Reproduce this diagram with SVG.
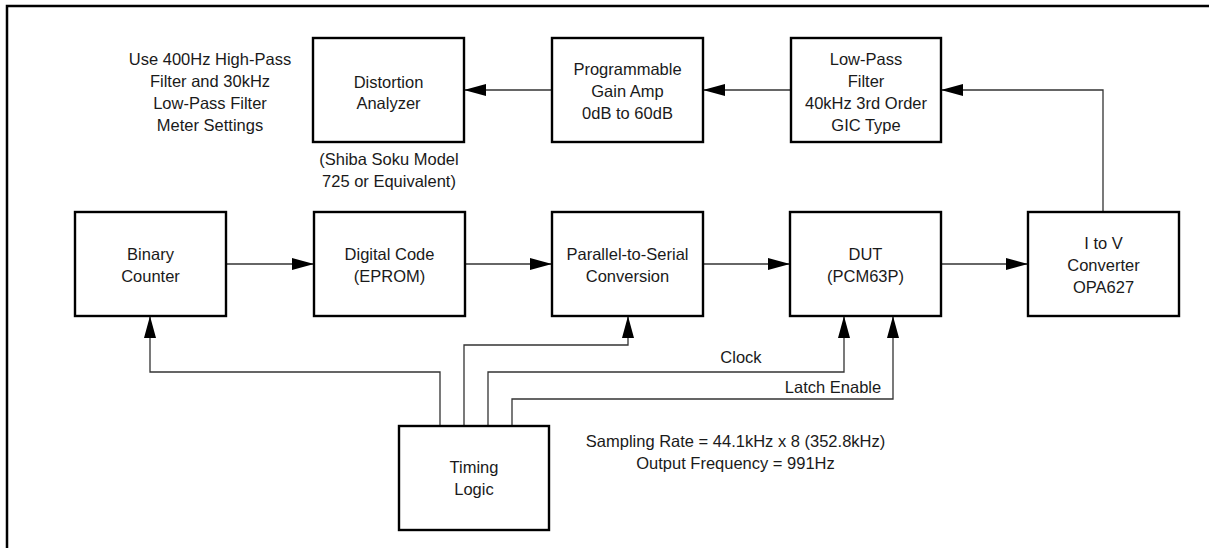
<svg xmlns="http://www.w3.org/2000/svg" width="1209" height="548" viewBox="0 0 1209 548">
<style>
.box{fill:#fff;stroke:#000;stroke-width:2.4}
.t{font-family:"Liberation Sans",Arial,sans-serif;font-size:16.5px;fill:#1a1a1a;text-anchor:middle}
.c{fill:none;stroke:#333;stroke-width:1.3}
</style>
<defs>
<marker id="ah" markerUnits="userSpaceOnUse" markerWidth="24" markerHeight="14" refX="22" refY="6" orient="auto">
<path d="M0,0 L22,6 L0,12 z" fill="#000"/>
</marker>
</defs>
<rect width="1209" height="548" fill="#fff"/>
<path d="M7,548 V6 H1209" fill="none" stroke="#000" stroke-width="2.5"/>

<g id="connectors">
<path class="c" d="M791,90 H703" marker-end="url(#ah)"/>
<path class="c" d="M552,90 H464" marker-end="url(#ah)"/>
<path class="c" d="M1103,212 V90 H941" marker-end="url(#ah)"/>
<path class="c" d="M226,264 H314" marker-end="url(#ah)"/>
<path class="c" d="M465,264 H552" marker-end="url(#ah)"/>
<path class="c" d="M703,264 H790" marker-end="url(#ah)"/>
<path class="c" d="M941,264 H1028" marker-end="url(#ah)"/>
<path class="c" d="M440,426 V372 H150 V316" marker-end="url(#ah)"/>
<path class="c" d="M464,426 V345 H628 V316" marker-end="url(#ah)"/>
<path class="c" d="M488,426 V372 H844 V316" marker-end="url(#ah)"/>
<path class="c" d="M512,426 V399 H893 V316" marker-end="url(#ah)"/>
</g>

<g id="note-meter">
<text class="t" x="210" y="65">Use 400Hz High-Pass</text>
<text class="t" x="210" y="87">Filter and 30kHz</text>
<text class="t" x="210" y="109">Low-Pass Filter</text>
<text class="t" x="210" y="131">Meter Settings</text>
</g>

<g id="distortion">
<rect class="box" x="313" y="38" width="151" height="104"/>
<text class="t" x="388.5" y="87.5">Distortion</text>
<text class="t" x="388.5" y="109">Analyzer</text>
<text class="t" x="389" y="165">(Shiba Soku Model</text>
<text class="t" x="389" y="187">725 or Equivalent)</text>
</g>

<g id="pga">
<rect class="box" x="552" y="38" width="151" height="104"/>
<text class="t" x="627.5" y="75">Programmable</text>
<text class="t" x="627.5" y="97">Gain Amp</text>
<text class="t" x="627.5" y="118.5">0dB to 60dB</text>
</g>

<g id="lpf">
<rect class="box" x="791" y="38" width="150" height="104"/>
<text class="t" x="866" y="65">Low-Pass</text>
<text class="t" x="866" y="87">Filter</text>
<text class="t" x="866" y="109">40kHz 3rd Order</text>
<text class="t" x="866" y="131">GIC Type</text>
</g>

<g id="binary">
<rect class="box" x="75" y="212" width="151" height="104"/>
<text class="t" x="150.5" y="260">Binary</text>
<text class="t" x="150.5" y="281.5">Counter</text>
</g>

<g id="eprom">
<rect class="box" x="314" y="212" width="151" height="104"/>
<text class="t" x="389.5" y="260">Digital Code</text>
<text class="t" x="389.5" y="281.5">(EPROM)</text>
</g>

<g id="p2s">
<rect class="box" x="552" y="212" width="151" height="104"/>
<text class="t" x="627.5" y="260">Parallel-to-Serial</text>
<text class="t" x="627.5" y="281.5">Conversion</text>
</g>

<g id="dut">
<rect class="box" x="790" y="212" width="151" height="104"/>
<text class="t" x="865.5" y="260">DUT</text>
<text class="t" x="865.5" y="281.5">(PCM63P)</text>
</g>

<g id="itov">
<rect class="box" x="1028" y="212" width="151" height="104"/>
<text class="t" x="1103.5" y="249">I to V</text>
<text class="t" x="1103.5" y="271">Converter</text>
<text class="t" x="1103.5" y="292.5">OPA627</text>
</g>

<g id="timing">
<rect class="box" x="399" y="426" width="150" height="104"/>
<text class="t" x="474" y="473">Timing</text>
<text class="t" x="474" y="495">Logic</text>
</g>

<g id="labels">
<text class="t" x="741" y="363">Clock</text>
<text class="t" x="833" y="393">Latch Enable</text>
<text class="t" x="735.5" y="447">Sampling Rate = 44.1kHz x 8 (352.8kHz)</text>
<text class="t" x="735.5" y="469">Output Frequency = 991Hz</text>
</g>
</svg>
